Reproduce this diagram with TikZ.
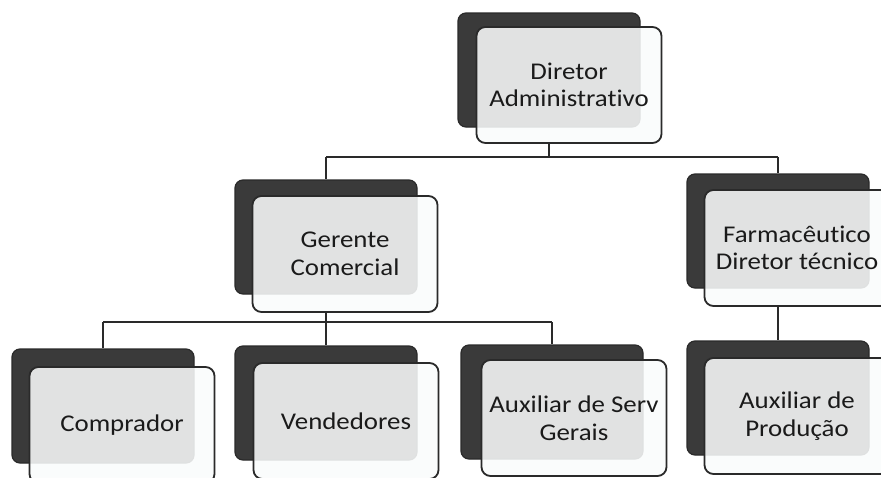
\documentclass[tikz,border=0pt]{standalone}
\usepackage{fontspec}
\setmainfont{Carlito}[FakeStretch=1.12,Ligatures=NoCommon]
\definecolor{darkbox}{HTML}{3A3A3A}
\definecolor{textc}{HTML}{1A1A1A}
\definecolor{linec}{HTML}{2A2A2A}
\definecolor{frontc}{HTML}{FAFCFC}
\begin{document}
\begin{tikzpicture}[x=1pt,y=-1pt,
  back/.style={draw=linec, line width=1.2pt, fill=darkbox, rounded corners=8pt,
    minimum width=182pt, minimum height=114pt, inner sep=0pt},
  front/.style={draw=linec, line width=1.8pt, fill=frontc, fill opacity=0.87, text opacity=1,
    rounded corners=9pt, minimum width=185pt, minimum height=116pt, inner sep=0pt,
    align=center, font=\fontsize{24}{27.5}\selectfont, text=textc},
  link/.style={draw=linec, line width=1.8pt}]
\useasboundingbox (0,0) rectangle (881,477);
\fill[white] (0,0) rectangle (881,477);
\clip (0,0) rectangle (881,477);
% back boxes
\node[back] (DAb) at (549,70) {};
\node[back] (GCb) at (326,237) {};
\node[back] (Fb) at (778,231) {};
\node[back] (Cb) at (103,406) {};
\node[back] (Vb) at (326,403) {};
\node[back] (ASb) at (552,402) {};
\node[back] (APb) at (778,398) {};
% front boxes
\node[front] (DA) at (569,85) {Diretor\\Administrativo};
\node[front] (GC) at (345,254) {Gerente\\Comercial};
\node[front] (F) at (797,248) {Farmacêutico\\Diretor técnico};
\node[front] (C) at (122,425) {Comprador};
\node[front] (V) at (346,421) {Vendedores};
\node[front] (AS) at (574,418) {Auxiliar de Serv\\Gerais};
\node[front] (AP) at (797,416) {Auxiliar de\\Produção};
% connectors
\coordinate (j1) at (549,157);
\coordinate (j2) at (326,322);
\draw[link] (DAb |- DA.south) -- (j1);
\draw[link] (GCb |- j1) -- (Fb |- j1);
\draw[link] (GCb |- j1) -- (GCb.north);
\draw[link] (Fb |- j1) -- (Fb.north);
\draw[link] (GCb |- GC.south) -- (j2);
\draw[link] (Cb |- j2) -- (ASb |- j2);
\draw[link] (Cb |- j2) -- (Cb.north);
\draw[link] (Vb |- j2) -- (Vb.north);
\draw[link] (ASb |- j2) -- (ASb.north);
\draw[link] (Fb |- F.south) -- (APb.north);
\end{tikzpicture}
\end{document}
